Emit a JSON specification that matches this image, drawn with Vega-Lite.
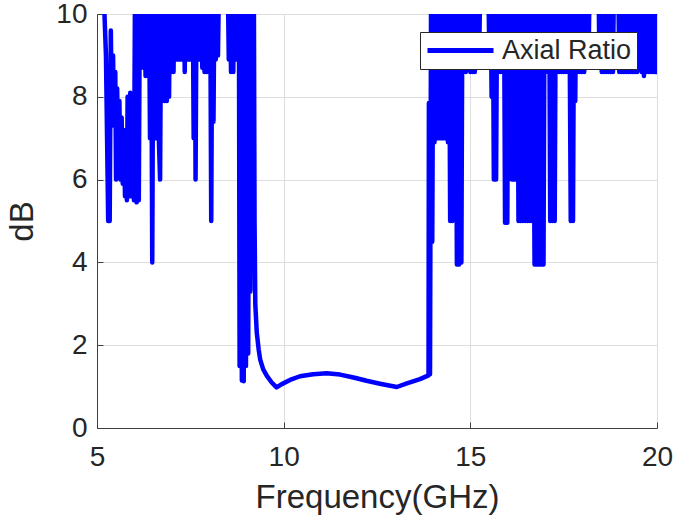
{
  "$schema": "https://vega.github.io/schema/vega-lite/v6.json",
  "width": 560,
  "height": 414,
  "autosize": {"type": "none"},
  "padding": {"left": 97, "top": 14, "right": 17, "bottom": 94},
  "background": "white",
  "config": {
    "view": {"stroke": "#404040", "strokeWidth": 1},
    "font": "Liberation Sans",
    "axis": {
      "labelFont": "Liberation Sans",
      "titleFont": "Liberation Sans",
      "labelColor": "#262626",
      "titleColor": "#262626",
      "labelFontSize": 28,
      "titleFontSize": 33,
      "titleFontWeight": "normal",
      "domainColor": "#404040",
      "tickColor": "#404040",
      "gridColor": "#dedede",
      "gridWidth": 1,
      "tickSize": -6,
      "tickWidth": 1,
      "labelFlush": false
    }
  },
  "data": {
    "values": [
      {"f":5.16,"v":11},{"f":5.20,"v":10},{"f":5.24,"v":9.0},{"f":5.27,"v":7.0},{"f":5.30,"v":5.0},{"f":5.34,"v":5.0},{"f":5.37,"v":9.6},{"f":5.40,"v":7.5},{"f":5.43,"v":9.0},{"f":5.46,"v":7.3},{"f":5.49,"v":8.6},{"f":5.51,"v":6.0},{"f":5.54,"v":8.2},{"f":5.57,"v":6.5},{"f":5.60,"v":7.9},{"f":5.63,"v":6.0},{"f":5.66,"v":7.5},{"f":5.69,"v":5.9},{"f":5.72,"v":7.2},{"f":5.75,"v":5.6},{"f":5.78,"v":6.8},{"f":5.80,"v":5.5},{"f":5.82,"v":8.0},{"f":5.86,"v":5.6},{"f":5.89,"v":8.1},{"f":5.93,"v":5.6},{"f":5.96,"v":8.0},{"f":5.99,"v":5.5},{"f":6.02,"v":11},{"f":6.06,"v":5.45},{"f":6.09,"v":11},{"f":6.12,"v":5.5},{"f":6.15,"v":11},
      {"f":6.18,"v":8.9},{"f":6.21,"v":11},{"f":6.24,"v":8.7},{"f":6.27,"v":11},{"f":6.30,"v":8.5},{"f":6.33,"v":11},{"f":6.36,"v":8.5},{"f":6.39,"v":11},{"f":6.42,"v":7.0},{"f":6.45,"v":11},{"f":6.48,"v":4.0},{"f":6.51,"v":11},{"f":6.54,"v":7.0},{"f":6.57,"v":11},{"f":6.60,"v":7.0},{"f":6.63,"v":11},{"f":6.66,"v":6.9},{"f":6.69,"v":6.0},{"f":6.72,"v":11},{"f":6.75,"v":7.9},{"f":6.78,"v":11},{"f":6.81,"v":7.9},{"f":6.84,"v":11},{"f":6.87,"v":7.9},{"f":6.90,"v":11},{"f":6.93,"v":8.0},{"f":6.96,"v":11},{"f":6.99,"v":8.6},{"f":7.02,"v":11},{"f":7.05,"v":8.6},{"f":7.08,"v":11},{"f":7.11,"v":8.9},{"f":7.14,"v":11},{"f":7.17,"v":8.9},{"f":7.20,"v":11},{"f":7.23,"v":8.9},{"f":7.26,"v":11},{"f":7.29,"v":8.9},{"f":7.32,"v":11},{"f":7.35,"v":8.6},{"f":7.38,"v":11},{"f":7.41,"v":8.9},{"f":7.44,"v":11},{"f":7.47,"v":8.9},{"f":7.50,"v":11},{"f":7.53,"v":8.9},{"f":7.56,"v":11},{"f":7.59,"v":7.0},{"f":7.62,"v":11},{"f":7.64,"v":6.0},{"f":7.67,"v":11},{"f":7.70,"v":8.9},{"f":7.73,"v":11},{"f":7.76,"v":8.9},{"f":7.79,"v":11},{"f":7.82,"v":8.7},{"f":7.85,"v":11},{"f":7.88,"v":8.6},{"f":7.91,"v":11},{"f":7.94,"v":8.6},{"f":7.97,"v":11},{"f":8.00,"v":8.6},{"f":8.03,"v":11},{"f":8.06,"v":5.0},{"f":8.09,"v":11},{"f":8.12,"v":7.4},{"f":8.15,"v":11},{"f":8.18,"v":8.9},{"f":8.21,"v":11},{"f":8.24,"v":9.0},{"f":8.27,"v":11},{"f":8.30,"v":11},
      {"f":8.50,"v":11},{"f":8.53,"v":8.9},{"f":8.56,"v":11},{"f":8.59,"v":8.6},{"f":8.62,"v":11},{"f":8.65,"v":8.6},{"f":8.68,"v":11},{"f":8.71,"v":8.9},{"f":8.74,"v":11},{"f":8.77,"v":8.9},{"f":8.80,"v":11},{"f":8.82,"v":1.5},{"f":8.85,"v":11},{"f":8.88,"v":1.15},{"f":8.91,"v":11},{"f":8.93,"v":1.13},{"f":8.96,"v":11},{"f":8.99,"v":1.5},{"f":9.02,"v":11},{"f":9.05,"v":1.8},{"f":9.08,"v":11},{"f":9.11,"v":3.3},{"f":9.14,"v":11},{"f":9.17,"v":5.0},{"f":9.20,"v":11},{"f":9.22,"v":5.0},{"f":9.24,"v":3.0},
      {"f":9.28,"v":2.3},{"f":9.33,"v":1.9},{"f":9.37,"v":1.66},{"f":9.45,"v":1.42},{"f":9.55,"v":1.26},{"f":9.68,"v":1.10},{"f":9.81,"v":0.98},{"f":9.95,"v":1.06},{"f":10.17,"v":1.16},{"f":10.44,"v":1.25},{"f":10.79,"v":1.30},{"f":11.15,"v":1.32},{"f":11.51,"v":1.29},{"f":11.87,"v":1.22},{"f":12.22,"v":1.14},{"f":12.58,"v":1.07},{"f":13.03,"v":0.99},{"f":13.30,"v":1.08},{"f":13.65,"v":1.18},{"f":13.88,"v":1.27},
      {"f":13.89,"v":7.85},{"f":13.92,"v":1.3},{"f":13.95,"v":11},{"f":13.98,"v":4.5},{"f":14.01,"v":11},{"f":14.04,"v":6.9},{"f":14.07,"v":11},{"f":14.10,"v":7.0},{"f":14.13,"v":11},{"f":14.16,"v":7.0},{"f":14.19,"v":11},{"f":14.22,"v":7.0},{"f":14.25,"v":11},{"f":14.28,"v":7.0},{"f":14.31,"v":11},{"f":14.34,"v":7.0},{"f":14.37,"v":11},{"f":14.40,"v":6.9},{"f":14.43,"v":11},{"f":14.46,"v":5.0},{"f":14.49,"v":11},{"f":14.52,"v":5.0},{"f":14.55,"v":11},{"f":14.58,"v":8.6},{"f":14.61,"v":11},{"f":14.64,"v":3.95},{"f":14.67,"v":11},{"f":14.70,"v":3.95},{"f":14.73,"v":11},{"f":14.76,"v":4.0},{"f":14.79,"v":11},{"f":14.82,"v":8.6},{"f":14.85,"v":11},{"f":14.88,"v":8.6},{"f":14.91,"v":11},{"f":14.94,"v":8.7},{"f":14.97,"v":11},{"f":15.00,"v":8.6},{"f":15.03,"v":11},{"f":15.06,"v":8.6},{"f":15.09,"v":11},{"f":15.12,"v":8.6},{"f":15.15,"v":11},{"f":15.18,"v":8.9},{"f":15.21,"v":11},{"f":15.24,"v":9.2},{"f":15.27,"v":11},
      {"f":15.48,"v":11},{"f":15.51,"v":8.9},{"f":15.54,"v":11},{"f":15.57,"v":8.0},{"f":15.60,"v":11},{"f":15.63,"v":6.0},{"f":15.66,"v":11},{"f":15.69,"v":6.0},{"f":15.72,"v":11},{"f":15.75,"v":8.6},{"f":15.78,"v":11},{"f":15.81,"v":8.6},{"f":15.84,"v":11},{"f":15.87,"v":8.6},{"f":15.90,"v":11},{"f":15.93,"v":4.96},{"f":15.96,"v":11},{"f":15.99,"v":4.96},{"f":16.02,"v":11},{"f":16.05,"v":7.0},{"f":16.08,"v":11},{"f":16.11,"v":6.0},{"f":16.14,"v":11},{"f":16.17,"v":6.0},{"f":16.20,"v":11},{"f":16.23,"v":6.0},{"f":16.26,"v":11},{"f":16.29,"v":5.0},{"f":16.32,"v":11},{"f":16.35,"v":5.0},{"f":16.38,"v":11},{"f":16.41,"v":5.0},{"f":16.44,"v":11},{"f":16.47,"v":5.0},{"f":16.50,"v":11},{"f":16.53,"v":5.0},{"f":16.56,"v":11},{"f":16.59,"v":5.0},{"f":16.62,"v":11},{"f":16.65,"v":5.0},{"f":16.68,"v":11},{"f":16.72,"v":3.95},{"f":16.75,"v":11},{"f":16.78,"v":3.95},{"f":16.81,"v":11},{"f":16.84,"v":3.95},{"f":16.87,"v":11},{"f":16.90,"v":3.95},{"f":16.93,"v":11},{"f":16.96,"v":3.95},{"f":16.99,"v":11},{"f":17.02,"v":8.6},{"f":17.05,"v":11},{"f":17.08,"v":8.6},{"f":17.11,"v":11},{"f":17.14,"v":5.0},{"f":17.17,"v":11},{"f":17.20,"v":5.0},{"f":17.23,"v":11},{"f":17.26,"v":5.0},{"f":17.29,"v":11},{"f":17.32,"v":8.6},{"f":17.35,"v":11},{"f":17.38,"v":8.6},{"f":17.41,"v":11},{"f":17.44,"v":8.6},{"f":17.47,"v":11},{"f":17.50,"v":8.6},{"f":17.53,"v":11},{"f":17.56,"v":8.6},{"f":17.59,"v":11},{"f":17.62,"v":8.6},{"f":17.65,"v":11},{"f":17.69,"v":5.0},{"f":17.72,"v":11},{"f":17.75,"v":5.0},{"f":17.78,"v":11},{"f":17.81,"v":7.9},{"f":17.84,"v":11},{"f":17.87,"v":8.6},{"f":17.90,"v":11},{"f":17.93,"v":8.6},{"f":17.96,"v":11},{"f":17.99,"v":8.6},{"f":18.02,"v":11},{"f":18.05,"v":8.6},{"f":18.08,"v":11},{"f":18.11,"v":8.9},{"f":18.14,"v":11},{"f":18.17,"v":9.2},{"f":18.20,"v":11},
      {"f":18.43,"v":11},{"f":18.46,"v":8.7},{"f":18.49,"v":11},{"f":18.52,"v":8.6},{"f":18.55,"v":11},{"f":18.58,"v":8.6},{"f":18.61,"v":11},{"f":18.64,"v":8.6},{"f":18.67,"v":11},{"f":18.70,"v":8.6},{"f":18.73,"v":11},{"f":18.76,"v":8.6},{"f":18.79,"v":11},{"f":18.82,"v":8.6},{"f":18.85,"v":11},{"f":18.96,"v":11},{"f":18.99,"v":8.6},{"f":19.02,"v":11},{"f":19.05,"v":8.6},{"f":19.08,"v":11},{"f":19.11,"v":8.6},{"f":19.14,"v":11},{"f":19.17,"v":8.6},{"f":19.20,"v":11},{"f":19.23,"v":8.6},{"f":19.26,"v":11},{"f":19.29,"v":8.6},{"f":19.32,"v":11},{"f":19.35,"v":8.6},{"f":19.38,"v":11},{"f":19.41,"v":8.6},{"f":19.44,"v":11},{"f":19.47,"v":8.6},{"f":19.50,"v":11},{"f":19.53,"v":8.7},{"f":19.56,"v":11},{"f":19.59,"v":8.6},{"f":19.62,"v":11},{"f":19.65,"v":8.5},{"f":19.68,"v":11},{"f":19.71,"v":8.6},{"f":19.74,"v":11},{"f":19.77,"v":8.6},{"f":19.80,"v":11},{"f":19.83,"v":8.6},{"f":19.86,"v":11},{"f":19.89,"v":8.6},{"f":19.92,"v":11},{"f":19.95,"v":8.6},{"f":19.98,"v":11},{"f":20.00,"v":8.6}
    ]
  },
  "mark": {"type": "line", "clip": true, "strokeWidth": 4.5, "strokeJoin": "round", "strokeCap": "round"},
  "encoding": {
    "x": {
      "field": "f", "type": "quantitative",
      "scale": {"domain": [5, 20], "nice": false, "zero": false},
      "axis": {"title": "Frequency(GHz)", "values": [5, 10, 15, 20], "format": "d", "labelPadding": 21, "titlePadding": 10, "grid": true}
    },
    "y": {
      "field": "v", "type": "quantitative",
      "scale": {"domain": [0, 10], "nice": false},
      "axis": {"title": "dB", "values": [0, 2, 4, 6, 8, 10], "format": "d", "labelPadding": 16, "titlePadding": 16, "grid": true}
    },
    "color": {
      "datum": "Axial Ratio", "type": "nominal",
      "scale": {"range": ["#0000ff"]},
      "legend": {
        "title": null, "orient": "none", "legendX": 323, "legendY": 18,
        "symbolType": "stroke", "symbolSize": 4356, "symbolStrokeWidth": 5,
        "clipHeight": 27,
        "labelFont": "Liberation Sans", "labelFontSize": 27, "labelColor": "#262626",
        "labelOffset": 6, "padding": 5, "strokeColor": "#262626", "fillColor": "white",
        "cornerRadius": 0, "labelLimit": 400
      }
    }
  }
}
